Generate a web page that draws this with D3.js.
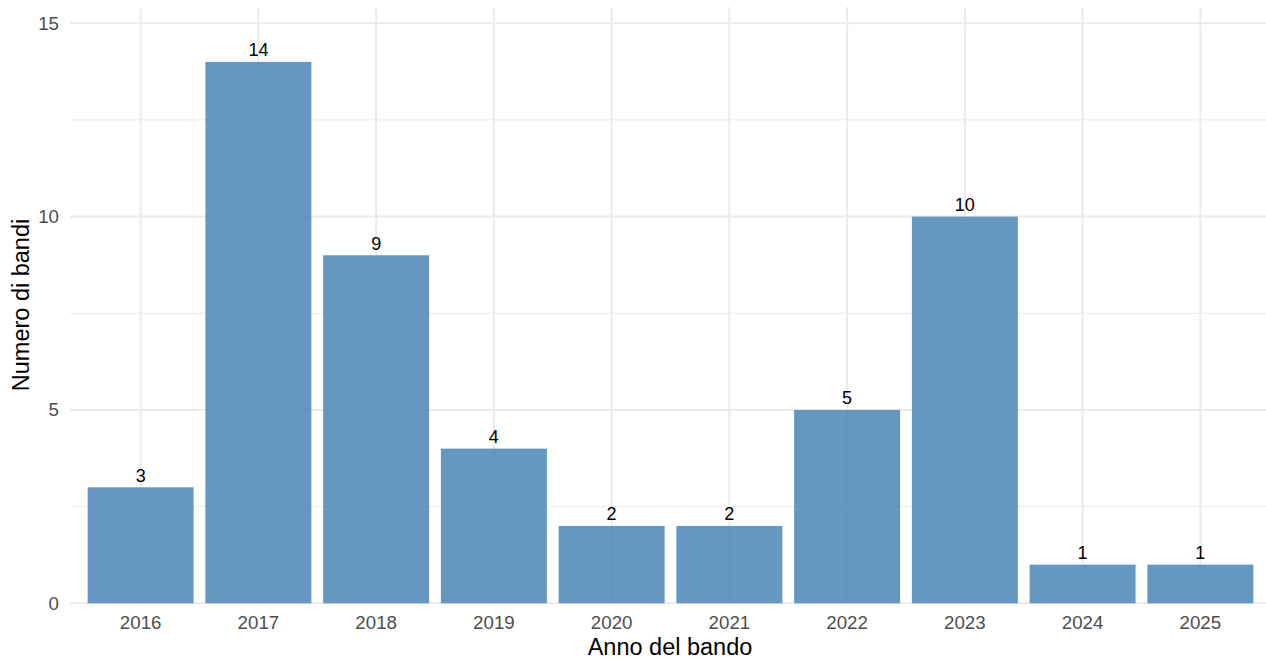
<!DOCTYPE html>
<html><head><meta charset="utf-8">
<script src="https://cdn.jsdelivr.net/npm/d3@7"></script>
<style>body{margin:0;background:#fff}svg{display:block}text{font-family:"Liberation Sans",Arial,sans-serif}</style>
</head><body>
<svg id="c" width="1266" height="662"></svg>
<script>
const years = ["2016","2017","2018","2019","2020","2021","2022","2023","2024","2025"];
const counts = [3,14,9,4,2,2,5,10,1,1];
const yTicks = [0,5,10,15];
const yMinor = [2.5,7.5,12.5];

const svg = d3.select("#c");
const x = d3.scaleBand().domain(years).range([70, 1271]).paddingInner(0.1).paddingOuter(0.15);
const y = d3.scaleLinear().domain([0, 15.42]).range([603.3, 7]);
const grid = "#EBEBEB";

const g = svg.append("g");
g.selectAll(".mn").data(yMinor).join("line")
  .attr("x1",70).attr("x2",1266).attr("y1",d=>y(d)).attr("y2",d=>y(d))
  .attr("stroke",grid).attr("stroke-width",1);
g.selectAll(".mj").data(yTicks).join("line")
  .attr("x1",70).attr("x2",1266).attr("y1",d=>y(d)).attr("y2",d=>y(d))
  .attr("stroke",grid).attr("stroke-width",2);
g.selectAll(".vx").data(years).join("line")
  .attr("x1",d=>x(d)+x.bandwidth()/2).attr("x2",d=>x(d)+x.bandwidth()/2)
  .attr("y1",7).attr("y2",603.3).attr("stroke",grid).attr("stroke-width",2);

svg.append("g").selectAll("rect").data(years).join("rect")
  .attr("x",d=>x(d)).attr("width",x.bandwidth())
  .attr("y",(d,i)=>y(counts[i])).attr("height",(d,i)=>y(0)-y(counts[i]))
  .attr("fill","steelblue").attr("fill-opacity",0.83);

svg.append("g").selectAll("text").data(years).join("text")
  .attr("x",d=>x(d)+x.bandwidth()/2).attr("y",(d,i)=>y(counts[i])-5.5)
  .attr("text-anchor","middle").attr("font-size",18).attr("fill","#000")
  .text((d,i)=>counts[i]);

// axes
const xa = svg.append("g").attr("transform","translate(0,603.3)")
  .call(d3.axisBottom(x).tickSize(0).tickPadding(12));
xa.select(".domain").remove();
xa.selectAll("text").attr("font-size",18.7).attr("fill","#4D4D4D").attr("dy","0.71em").attr("font-family","Liberation Sans, Arial, sans-serif");

const ya = svg.append("g").attr("transform","translate(70,0)")
  .call(d3.axisLeft(y).tickValues(yTicks).tickSize(0).tickPadding(11));
ya.select(".domain").remove();
ya.selectAll("text").attr("font-size",18.7).attr("fill","#4D4D4D").attr("font-family","Liberation Sans, Arial, sans-serif");

svg.append("text").attr("x",670).attr("y",655).attr("text-anchor","middle")
  .attr("font-size",23.5).attr("fill","#000").text("Anno del bando");
svg.append("text").attr("transform","translate(29,305) rotate(-90)").attr("text-anchor","middle")
  .attr("font-size",23.5).attr("fill","#000").text("Numero di bandi");
</script>
</body></html>
